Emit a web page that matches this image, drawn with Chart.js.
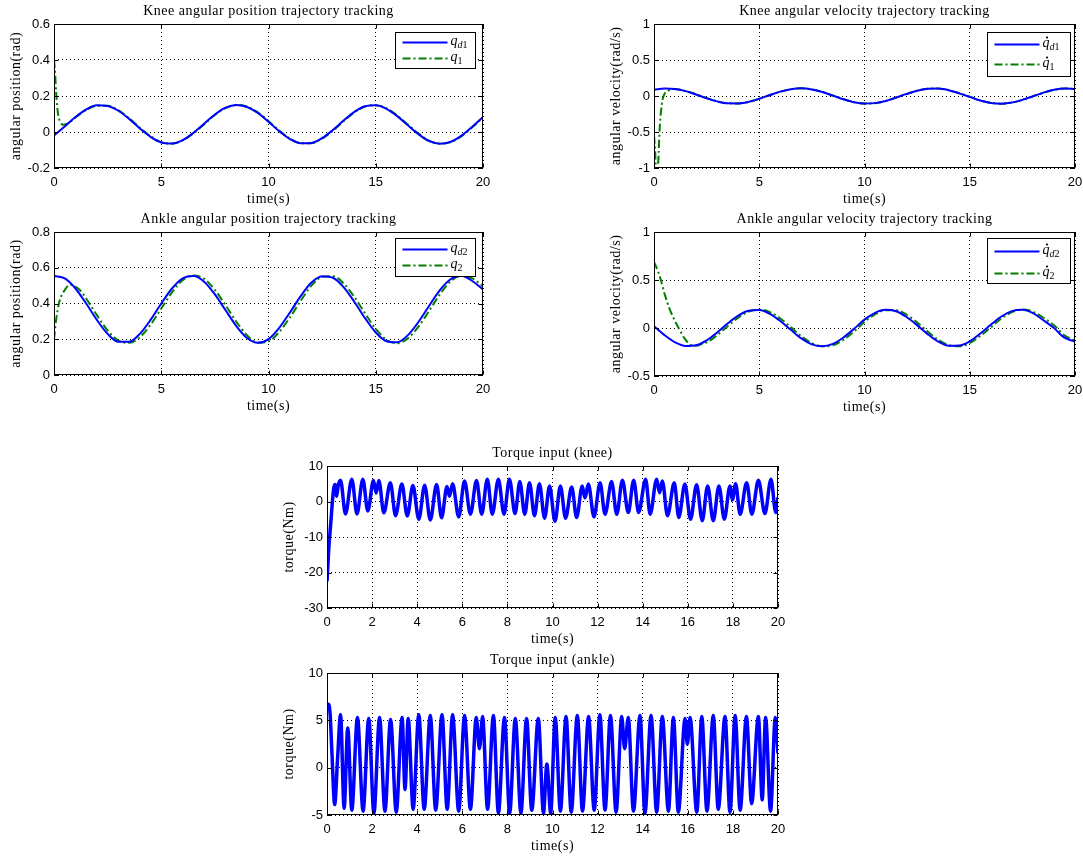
<!DOCTYPE html>
<html>
<head>
<meta charset="utf-8">
<script src="https://cdn.jsdelivr.net/npm/chart.js@4.4.0/dist/chart.umd.min.js"></script>
<style>
  body { margin: 0; background: #fff; width: 1083px; height: 857px; position: relative; overflow: hidden; }
  canvas { position: absolute; }
</style>
</head>
<body>
<canvas id="kneePos" width="495" height="210" style="left:0;top:0"></canvas>
<canvas id="kneeVel" width="483" height="210" style="left:600px;top:0"></canvas>
<canvas id="anklePos" width="495" height="209" style="left:0;top:208px"></canvas>
<canvas id="ankleVel" width="483" height="210" style="left:600px;top:208px"></canvas>
<canvas id="torqueKnee" width="517" height="208" style="left:273px;top:442px"></canvas>
<canvas id="torqueAnkle" width="517" height="208" style="left:273px;top:649px"></canvas>
<script>
// common time grid (s)
const tGrid = [0,0.5,1,1.5,2,2.5,3,3.5,4,4.5,5,5.5,6,6.5,7,7.5,8,8.5,9,9.5,10,
  10.5,11,11.5,12,12.5,13,13.5,14,14.5,15,15.5,16,16.5,17,17.5,18,18.5,19,19.5,20];

// knee angular position (rad)
const qd1 = [-0.019,0.031,0.083,0.125,0.148,0.145,0.118,0.073,0.020,-0.027,-0.058,-0.064,-0.045,-0.005,
  0.046,0.097,0.135,0.150,0.139,0.106,0.057,0.004,-0.039,-0.063,-0.061,-0.034,0.011,0.064,0.112,0.143,
  0.149,0.129,0.088,0.037,-0.013,-0.051,-0.065,-0.054,-0.020,0.029,0.084];
const tQ1 = [0,0.05,0.1,0.15,0.2,0.3,0.42,0.6,0.8,1,1.5,2,2.5,3,3.5,4,4.5,5,5.5,6,6.5,7,7.5,8,8.5,9,9.5,
  10,10.5,11,11.5,12,12.5,13,13.5,14,14.5,15,15.5,16,16.5,17,17.5,18,18.5,19,19.5,20];
const q1 = [0.40,0.33,0.22,0.14,0.09,0.055,0.04,0.045,0.06,0.08,0.122,0.146,0.146,0.121,0.077,0.024,-0.023,
  -0.056,-0.065,-0.047,-0.008,0.042,0.094,0.133,0.150,0.141,0.109,0.061,0.008,-0.036,-0.062,-0.062,-0.037,
  0.007,0.060,0.109,0.141,0.149,0.132,0.092,0.041,-0.009,-0.049,-0.065,-0.056,-0.023,0.026,0.081];

// knee angular velocity (rad/s)
const dqd1 = [0.087,0.105,0.098,0.068,0.021,-0.031,-0.075,-0.102,-0.104,-0.081,-0.038,0.013,0.061,0.095,
  0.106,0.091,0.055,0.005,-0.046,-0.086,-0.105,-0.099,-0.069,-0.021,0.029,0.074,0.101,0.104,0.081,0.037,
  -0.012,-0.063,-0.096,-0.106,-0.091,-0.053,-0.004,0.047,0.086,0.105,0.095];
const tDq1 = [0,0.06,0.12,0.18,0.22,0.27,0.33,0.4,0.5,0.6,0.8,1,1.5,2,2.5,3,3.5,4,4.5,5,5.5,6,6.5,7,7.5,8,
  8.5,9,9.5,10,10.5,11,11.5,12,12.5,13,13.5,14,14.5,15,15.5,16,16.5,17,17.5,18,18.5,19,19.5,20];
const dq1 = [-0.55,-0.8,-1.3,-1.05,-0.8,-0.45,-0.22,-0.06,0.03,0.06,0.09,0.097,0.069,0.023,-0.029,-0.073,
  -0.101,-0.104,-0.082,-0.040,0.011,0.059,0.094,0.106,0.092,0.057,0.007,-0.044,-0.085,-0.105,-0.100,-0.071,
  -0.023,0.027,0.072,0.100,0.104,0.082,0.039,-0.010,-0.061,-0.095,-0.106,-0.092,-0.055,-0.006,0.045,0.085,
  0.105,0.096];

// ankle angular position (rad)
const qd2 = [0.554,0.540,0.484,0.400,0.308,0.230,0.186,0.186,0.230,0.308,0.400,0.484,0.541,0.554,0.522,
  0.451,0.362,0.274,0.207,0.180,0.201,0.264,0.350,0.441,0.517,0.553,0.544,0.492,0.410,0.318,0.238,0.189,
  0.183,0.223,0.298,0.389,0.476,0.537,0.555,0.526,0.478];
const tQ2 = [0,0.1,0.25,0.5,0.75,1,1.25,1.5,2,2.5,3,3.5,4,4.5,5,5.5,6,6.5,7,7.5,8,8.5,9,9.5,10,10.5,11,
  11.5,12,12.5,13,13.5,14,14.5,15,15.5,16,16.5,17,17.5,18,18.5,19,19.5,20];
const q2 = [0.20,0.31,0.41,0.475,0.505,0.495,0.47,0.428,0.335,0.249,0.193,0.180,0.211,0.281,0.372,0.462,
  0.530,0.557,0.538,0.476,0.390,0.298,0.222,0.181,0.188,0.241,0.322,0.415,0.500,0.549,0.553,0.513,0.437,
  0.345,0.258,0.197,0.178,0.205,0.272,0.361,0.453,0.525,0.555,0.541,0.495];

// ankle angular velocity (rad/s)
const dqd2 = [0.019,-0.074,-0.149,-0.187,-0.180,-0.129,-0.047,0.047,0.129,0.180,0.187,0.148,0.073,-0.019,
  -0.108,-0.170,-0.190,-0.165,-0.099,-0.009,0.087,0.158,0.189,0.175,0.115,0.030,-0.064,-0.142,-0.185,
  -0.183,-0.138,-0.057,0.034,0.120,0.176,0.189,0.155,0.081,0.000,-0.101,-0.140];
const tDq2 = [0,0.19,0.35,0.51,0.74,0.98,1.22,1.46,1.7,2,2.3,2.5,3,3.5,4,4.5,5,5.5,6,6.5,7,7.5,8,8.5,9,
  9.5,10,10.5,11,11.5,12,12.5,13,13.5,14,14.5,15,15.5,16,16.5,17,17.5,18,18.5,19,19.5,20];
const dq2 = [0.69,0.59,0.48,0.35,0.20,0.08,-0.02,-0.11,-0.17,-0.185,-0.165,-0.150,-0.075,0.019,0.108,0.171,
  0.192,0.166,0.099,0.009,-0.085,-0.157,-0.191,-0.179,-0.123,-0.037,0.062,0.142,0.186,0.186,0.138,0.058,
  -0.037,-0.123,-0.178,-0.190,-0.158,-0.084,0.006,0.098,0.165,0.192,0.171,0.107,0.029,-0.077,-0.130];

// torque input, knee (Nm) - peaks and troughs
const tTauKnee = [0,0.04,0.08,0.13,0.18,0.24,0.3,0.36,0.43,0.5,0.6,0.82,1.1,1.33,1.59,1.81,2.06,2.18,2.3,
  2.52,2.81,3.04,3.32,3.56,3.81,4.07,4.33,4.58,4.86,5.08,5.32,5.43,5.57,5.84,6.1,6.36,6.63,6.86,7.11,7.33,
  7.6,7.85,8.09,8.34,8.55,8.77,8.98,9.2,9.42,9.65,9.87,10.11,10.35,10.58,10.85,11.07,11.32,11.44,11.59,
  11.84,12.11,12.33,12.62,12.85,13.1,13.36,13.6,13.82,14.13,14.33,14.62,14.75,14.87,15.1,15.4,15.6,15.87,
  16.12,16.39,16.64,16.88,17.13,17.38,17.62,17.87,17.98,18.12,18.32,18.61,18.84,19.13,19.42,19.69,19.9,20];
const tauKnee = [-22.5,-18,-13,-9,-5,0,3.8,4.8,1.5,4.6,6.0,-3.5,6.3,-3.5,6.3,-2.7,5.9,2.4,5.9,
  -3.2,5.3,-4.0,4.9,-4.1,4.5,-5.0,4.6,-5.2,4.8,-4.6,4.2,1.5,5.0,-4.3,5.8,-3.6,5.9,-3.6,6.3,-3.6,
  6.3,-3.6,6.3,-3.4,5.6,-3.6,5.3,-4.0,5.0,-4.7,4.4,-5.6,4.4,-4.7,4.1,-4.5,4.4,1.0,4.9,
  -4.3,5.3,-3.6,5.6,-3.6,6.0,-3.1,6.0,-3.1,6.3,-3.6,6.3,2.5,5.8,-4.0,5.3,-4.5,4.9,
  -5.0,4.7,-5.4,4.4,-5.4,4.4,-5.0,4.4,0.5,5.0,-3.6,5.3,-3.6,6.0,-3.4,6.3,-3.1,1.2];

// torque input, ankle (Nm)
const tTauAnkle = [0,0.07,0.14,0.22,0.34,0.47,0.6,0.76,0.92,1.1,1.35,1.6,1.85,2.08,2.33,2.57,2.82,3.07,3.33,
  3.46,3.6,3.82,4.07,4.31,4.58,4.82,5.1,5.33,5.57,5.84,6.1,6.36,6.62,6.76,6.9,7.12,7.38,7.6,7.87,8.1,8.35,
  8.6,8.85,9.08,9.37,9.6,9.75,9.92,10.12,10.35,10.6,10.83,11.1,11.33,11.6,11.85,12.1,12.33,12.57,12.82,
  13.07,13.2,13.36,13.59,13.88,14.1,14.37,14.62,14.87,15.14,15.36,15.58,15.88,15.98,16.1,16.4,16.62,16.85,
  17.13,17.35,17.65,17.87,18.1,18.32,18.6,18.83,19.13,19.3,19.45,19.67,19.88,20];
const tauAnkle = [6.4,6.7,5.6,1.5,-3.9,1.0,5.6,-4.3,4.2,-4.5,5.3,-4.6,5.2,-4.8,5.3,-4.6,5.1,-4.7,5.3,
  -2.3,5.2,-4.4,5.6,-4.4,5.5,-4.5,5.6,-4.4,5.6,-4.6,5.5,-4.4,5.3,2.0,5.4,-4.4,5.5,-4.8,5.3,-4.8,5.2,
  -4.8,5.2,-4.5,5.2,-4.8,0.4,-4.8,5.3,-4.6,5.4,-4.7,5.5,-4.6,5.4,-4.5,5.6,-4.5,5.5,-4.7,
  5.4,2.0,5.3,-4.6,5.5,-4.8,5.5,-4.7,5.4,-4.6,5.3,-4.7,5.2,2.5,5.3,-4.7,5.4,-4.6,
  5.5,-4.4,5.4,-4.7,5.5,-4.5,5.4,-3.8,5.4,-3.4,5.3,-4.6,5.3,1.5];

const BLUE = '#0000ff';
const GREEN = '#007f00';
const DASHDOT = [8, 3, 2, 3];
const SERIF = '"Liberation Serif", "DejaVu Serif", serif';
const SANS = '"Liberation Sans", Arial, sans-serif';

function drawLegend(ctx, a, lg) {
  const bx = Math.round(a.right - lg.right - lg.w) + 0.5;
  const by = Math.round(a.top + lg.top) + 0.5;
  ctx.fillStyle = '#fff';
  ctx.fillRect(bx, by, lg.w, lg.h);
  ctx.strokeStyle = '#000';
  ctx.lineWidth = 1;
  ctx.setLineDash([]);
  ctx.strokeRect(bx, by, lg.w, lg.h);
  ctx.letterSpacing = '0px';
  lg.items.forEach((it, i) => {
    const yy = Math.round(by + lg.rows[i]) + 0.5;
    ctx.strokeStyle = it.color;
    ctx.lineWidth = 2;
    ctx.setLineDash(it.dash || []);
    ctx.beginPath();
    ctx.moveTo(bx + 7, yy);
    ctx.lineTo(bx + 52, yy);
    ctx.stroke();
    ctx.setLineDash([]);

    ctx.fillStyle = '#000';
    ctx.textAlign = 'left';
    ctx.textBaseline = 'alphabetic';
    let tx = bx + 55;
    const base = yy + 2;
    ctx.font = 'italic 14px ' + SERIF;
    ctx.fillText('q', tx, base);
    const qw = ctx.measureText('q').width;
    if (it.dot) {
      ctx.beginPath();
      ctx.arc(tx + qw / 2 + 1, base - 9, 1.1, 0, Math.PI * 2);
      ctx.fill();
    }
    tx += qw;
    it.sub.forEach(p => {
      ctx.font = (p.italic ? 'italic ' : '') + '10px ' + SERIF;
      ctx.fillText(p.t, tx, base + 3);
      tx += ctx.measureText(p.t).width;
    });
  });
}

const matlabFrame = {
  id: 'matlabFrame',
  afterDraw(chart, args, o) {
    const { ctx, chartArea: a } = chart;
    const xs = chart.scales.x, ys = chart.scales.y;
    ctx.save();
    ctx.strokeStyle = '#000';
    ctx.lineWidth = 1;
    ctx.setLineDash([]);
    const L = Math.round(a.left) + 0.5, R = Math.round(a.right) - 0.5;
    const T = Math.round(a.top) + 0.5, B = Math.round(a.bottom) - 0.5;
    ctx.strokeRect(L, T, R - L, B - T);
    ctx.beginPath();
    xs.ticks.forEach(t => {
      const px = Math.round(xs.getPixelForValue(t.value)) + 0.5;
      ctx.moveTo(px, B); ctx.lineTo(px, B - 4);
      ctx.moveTo(px, T); ctx.lineTo(px, T + 4);
    });
    ys.ticks.forEach(t => {
      const py = Math.round(ys.getPixelForValue(t.value)) + 0.5;
      ctx.moveTo(L, py); ctx.lineTo(L + 4, py);
      ctx.moveTo(R, py); ctx.lineTo(R - 4, py);
    });
    ctx.stroke();

    // x tick labels
    ctx.fillStyle = '#000';
    ctx.textAlign = 'center';
    ctx.textBaseline = 'middle';
    ctx.font = '13px ' + SANS;
    xs.ticks.forEach(t => {
      ctx.fillText(String(t.value), xs.getPixelForValue(t.value), a.bottom + 14);
    });

    ctx.font = '14px ' + SERIF;
    ctx.letterSpacing = '0.5px';
    const cx = (a.left + a.right) / 2;
    ctx.fillText(o.title, cx, a.top - 13);
    ctx.fillText('time(s)', cx, a.bottom + 31);
    ctx.save();
    ctx.translate(a.left - 38, (a.top + a.bottom) / 2);
    ctx.rotate(-Math.PI / 2);
    ctx.fillText(o.ylabel, 0, 0);
    ctx.restore();

    if (o.legend) drawLegend(ctx, a, o.legend);
    ctx.restore();
  }
};

function makeChart(id, c) {
  const datasets = c.series.map(s => ({
    data: s.t.map((t, i) => ({ x: t, y: s.v[i] })),
    borderColor: s.color,
    borderWidth: s.width || 2,
    borderDash: s.dash || [],
    pointRadius: 0,
    fill: false,
    cubicInterpolationMode: 'monotone'
  }));
  return new Chart(document.getElementById(id), {
    type: 'line',
    data: { datasets },
    options: {
      responsive: false,
      animation: false,
      events: [],
      layout: { padding: { top: 24, right: c.right, left: 0, bottom: 0 }, autoPadding: false },
      plugins: {
        legend: { display: false },
        tooltip: { enabled: false },
        matlabFrame: { title: c.title, ylabel: c.ylabel, legend: c.legend }
      },
      scales: {
        x: {
          type: 'linear', min: 0, max: 20,
          ticks: { stepSize: c.xStep, display: false, autoSkip: false },
          grid: { color: '#000', lineWidth: 1, drawTicks: false },
          border: { display: false, dash: [1, 3] },
          afterFit: s => { s.height = 42; }
        },
        y: {
          type: 'linear', min: c.yMin, max: c.yMax,
          ticks: { stepSize: c.yStep, color: '#000', font: { family: SANS, size: 13 }, padding: 4,
            callback: v => String(Math.round(v * 100) / 100) },
          grid: { color: '#000', lineWidth: 1, drawTicks: false },
          border: { display: false, dash: [1, 3] },
          afterFit: s => { s.width = 54; }
        }
      }
    },
    plugins: [matlabFrame]
  });
}

makeChart('kneePos', {
  title: 'Knee angular position trajectory tracking', ylabel: 'angular position(rad)',
  right: 12, xStep: 5, yMin: -0.2, yMax: 0.6, yStep: 0.2,
  series: [
    { t: tGrid, v: qd1, color: BLUE },
    { t: tQ1, v: q1, color: GREEN, dash: DASHDOT }
  ],
  legend: { right: 8, top: 8, w: 80, h: 36, rows: [9, 25], items: [
    { color: BLUE, sub: [{ t: 'd', italic: true }, { t: '1' }] },
    { color: GREEN, dash: DASHDOT, sub: [{ t: '1' }] }
  ] }
});

makeChart('kneeVel', {
  title: 'Knee angular velocity trajectory tracking', ylabel: 'angular velocity(rad/s)',
  right: 8, xStep: 5, yMin: -1, yMax: 1, yStep: 0.5,
  series: [
    { t: tGrid, v: dqd1, color: BLUE },
    { t: tDq1, v: dq1, color: GREEN, dash: DASHDOT }
  ],
  legend: { right: 5, top: 8, w: 83, h: 44, rows: [11, 31], items: [
    { color: BLUE, dot: true, sub: [{ t: 'd', italic: true }, { t: '1' }] },
    { color: GREEN, dash: DASHDOT, dot: true, sub: [{ t: '1' }] }
  ] }
});

makeChart('anklePos', {
  title: 'Ankle angular position trajectory tracking', ylabel: 'angular position(rad)',
  right: 12, xStep: 5, yMin: 0, yMax: 0.8, yStep: 0.2,
  series: [
    { t: tGrid, v: qd2, color: BLUE },
    { t: tQ2, v: q2, color: GREEN, dash: DASHDOT }
  ],
  legend: { right: 8, top: 6, w: 80, h: 38, rows: [10, 26], items: [
    { color: BLUE, sub: [{ t: 'd', italic: true }, { t: '2' }] },
    { color: GREEN, dash: DASHDOT, sub: [{ t: '2' }] }
  ] }
});

makeChart('ankleVel', {
  title: 'Ankle angular velocity trajectory tracking', ylabel: 'angular velocity(rad/s)',
  right: 8, xStep: 5, yMin: -0.5, yMax: 1, yStep: 0.5,
  series: [
    { t: tGrid, v: dqd2, color: BLUE },
    { t: tDq2, v: dq2, color: GREEN, dash: DASHDOT }
  ],
  legend: { right: 5, top: 6, w: 83, h: 45, rows: [12, 34], items: [
    { color: BLUE, dot: true, sub: [{ t: 'd', italic: true }, { t: '2' }] },
    { color: GREEN, dash: DASHDOT, dot: true, sub: [{ t: '2' }] }
  ] }
});

makeChart('torqueKnee', {
  title: 'Torque input (knee)', ylabel: 'torque(Nm)',
  right: 12, xStep: 2, yMin: -30, yMax: 10, yStep: 10,
  series: [{ t: tTauKnee, v: tauKnee, color: BLUE, width: 3.5 }]
});

makeChart('torqueAnkle', {
  title: 'Torque input (ankle)', ylabel: 'torque(Nm)',
  right: 12, xStep: 2, yMin: -5, yMax: 10, yStep: 5,
  series: [{ t: tTauAnkle, v: tauAnkle, color: BLUE, width: 3.5 }]
});
</script>
</body>
</html>
